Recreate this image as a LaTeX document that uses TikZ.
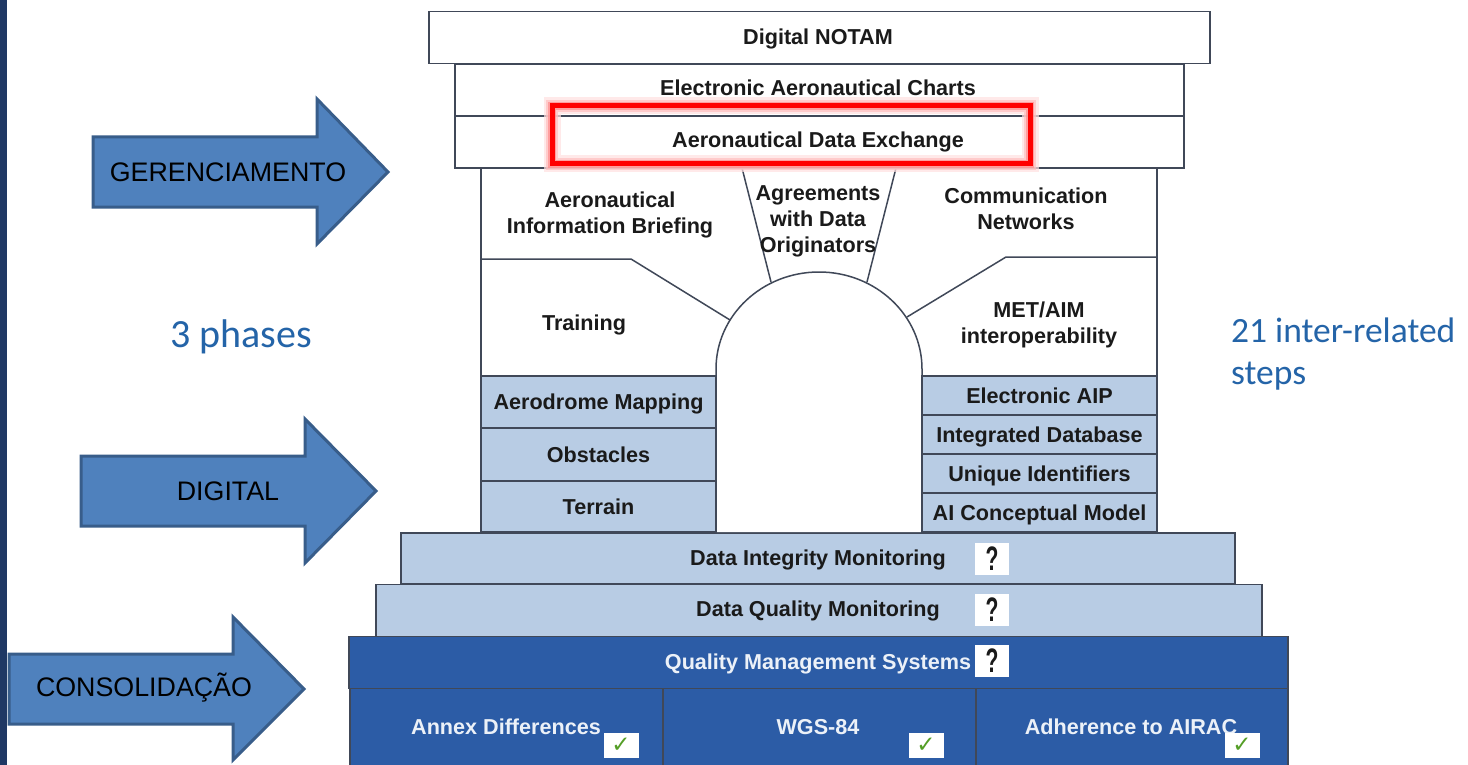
\documentclass[tikz,border=0pt]{standalone}
\usepackage{fontspec}
\setmainfont{Liberation Sans}
\newfontfamily\carlitofont{Carlito}
\newfontfamily\dejavufont{DejaVu Sans}
\definecolor{stripblue}{RGB}{31,56,100}
\definecolor{arrowfill}{RGB}{79,129,189}
\definecolor{arrowedge}{RGB}{56,93,138}
\definecolor{cellblue}{RGB}{184,204,228}
\definecolor{darkcell}{RGB}{44,92,166}
\definecolor{edgecol}{RGB}{64,72,88}
\definecolor{phaseblue}{RGB}{36,100,168}
\definecolor{checkgreen}{RGB}{84,158,38}
\definecolor{txt}{RGB}{26,26,26}
\definecolor{lighttxt}{RGB}{236,241,248}
\tikzset{
  cellfont/.style={font=\fontsize{21.6}{26}\selectfont\bfseries, text height=15.5pt, text depth=0pt},
  cell/.style={draw=edgecol, line width=1.5pt, inner sep=0pt, fill=white,
    cellfont, text=txt, align=center},
  bluecell/.style={cell, fill=cellblue},
  darkbox/.style={cell, fill=darkcell, text=lighttxt},
  label/.style={inner sep=0pt, cellfont, text=txt, align=center},
  multilabel/.style={inner sep=0pt, font=\fontsize{21.6}{26}\selectfont\bfseries, text depth=0pt, text=txt, align=center},
  divider/.style={draw=edgecol, line width=1.5pt},
  phase/.style={fill=arrowfill, draw=arrowedge, line width=3pt, line join=miter},
  phasetext/.style={inner sep=0pt, font=\fontsize{26.8}{30}\selectfont, text height=19.2pt, text depth=0pt, text=black},
  sidetext/.style={inner sep=0pt, text=phaseblue, anchor=base west},
  qbox/.style={fill=white, inner sep=0pt, minimum width=34pt, minimum height=32pt,
    font=\fontsize{34}{34}\selectfont\bfseries, text=txt},
  cbox/.style={fill=white, inner sep=0pt, minimum width=35pt, minimum height=25pt,
    font=\dejavufont\fontsize{23}{23}\selectfont, text=checkgreen},
}
\begin{document}
\begin{tikzpicture}[x=1pt, y=-1pt]
\useasboundingbox (0,0) rectangle (1468,765);
\fill[white] (0,0) rectangle (1468,765);
\fill[stripblue] (0,0) rectangle (7,765);

% phase arrows
\draw[phase] (93,137) -- (317,137) -- (317,99) -- (388,172) -- (317,244) -- (317,207) -- (93,207) -- cycle;
\node[phasetext] (gerencia) at (228,172) {GERENCIAMENTO};
\draw[phase] (81,456) -- (305,456) -- (305,419) -- (376,491) -- (305,563) -- (305,526) -- (81,526) -- cycle;
\node[phasetext] (digital) at (228,491) {DIGITAL};
\draw[phase] (9,654) -- (233,654) -- (233,617) -- (304,689) -- (233,760) -- (233,724) -- (9,724) -- cycle;
\node[phasetext] (consol) at (144,687) {CONSOLIDAÇÃO};

% side texts
\node[sidetext, font=\carlitofont\fontsize{40}{44}\selectfont] (phases) at (170,347) {3 phases};
\node[sidetext, font=\carlitofont\fontsize{35.5}{40}\selectfont] (steps1) at (1231,342) {21 inter-related};
\node[sidetext, font=\carlitofont\fontsize{35.5}{40}\selectfont] (steps2) at (1231,384) {steps};

% foundation
\node[darkbox, minimum width=313pt, minimum height=77pt] (annex) at (506.5,727) {};
\node[darkbox, minimum width=313pt, minimum height=77pt] (wgs) at (819.5,727) {};
\node[darkbox, minimum width=312pt, minimum height=77pt] (airac) at (1132,727) {};
\node[label, text=lighttxt] (annexT) at (506,727) {Annex Differences};
\node[label, text=lighttxt] (wgsT) at (818,727) {WGS-84};
\node[label, text=lighttxt] (airacT) at (1131,727) {Adherence to AIRAC};
\node[darkbox, minimum width=939pt, minimum height=52pt] (qms) at (818.5,662.5) {};
\node[label, text=lighttxt] (qmsT) at (818,662) {Quality Management Systems};
\node[bluecell, minimum width=886pt, minimum height=52pt] (dqm) at (819,610.5) {};
\node[label] (dqmT) at (818,609) {Data Quality Monitoring};
\node[bluecell, minimum width=834pt, minimum height=51pt] (dim) at (818,558.5) {};
\node[label] (dimT) at (818,558) {Data Integrity Monitoring};

% question marks and check marks
\node[qbox] (q1) at (992,559) {\scalebox{0.62}[1]{?}};
\node[qbox] (q2) at (992,610) {\scalebox{0.62}[1]{?}};
\node[qbox] (q3) at (992,661) {\scalebox{0.62}[1]{?}};
\node[cbox] (c1) at (621,745) {✓};
\node[cbox] (c2) at (926,745) {✓};
\node[cbox] (c3) at (1242,745) {✓};

% arch panel
\draw[divider, fill=white] (481,168) rectangle (1157,532);
\draw[divider] (481,259) -- (631,259) -- (730,320);
\draw[divider] (1157,257) -- (1006,257) -- (907,317);
\draw[divider] (742,168) -- (771,282);
\draw[divider] (896,168) -- (867,282);
\draw[divider, fill=white] (716,532) -- (716,369) arc[start angle=180, end angle=0, x radius=103pt, y radius=97pt] -- (922,532);

\node[multilabel] (briefing) at (610,212.5) {Aeronautical\\Information Briefing};
\node[multilabel] (agree) at (818,219) {Agreements\\with Data\\Originators};
\node[multilabel] (comm) at (1026,209) {Communication\\Networks};
\node[label] (training) at (584,323) {Training};
\node[multilabel] (metaim) at (1039,323) {MET/AIM\\interoperability};

% left column
\node[bluecell, minimum width=235pt, minimum height=52pt] (aero) at (598.5,402) {Aerodrome Mapping};
\node[bluecell, minimum width=235pt, minimum height=53pt] (obst) at (598.5,454.5) {Obstacles};
\node[bluecell, minimum width=235pt, minimum height=51pt] (terr) at (598.5,506.5) {Terrain};
% right column
\node[bluecell, minimum width=235pt, minimum height=39pt] (eaip) at (1039.5,395.5) {Electronic AIP};
\node[bluecell, minimum width=235pt, minimum height=39pt] (idb) at (1039.5,434.5) {Integrated Database};
\node[bluecell, minimum width=235pt, minimum height=39pt] (uid) at (1039.5,473.5) {Unique Identifiers};
\node[bluecell, minimum width=235pt, minimum height=39pt] (aicm) at (1039.5,512.5) {AI Conceptual Model};

% top layers
\node[cell, minimum width=729pt, minimum height=52pt] (ade) at (819.5,142) {};
\node[label] (adeT) at (818,140) {Aeronautical Data Exchange};
\node[cell, minimum width=729pt, minimum height=52pt] (eac) at (819.5,90) {};
\node[label] (eacT) at (818,88) {Electronic Aeronautical Charts};
\node[cell, minimum width=781pt, minimum height=52pt] (notam) at (819.5,37.5) {};
\node[label] (notamT) at (818,37) {Digital NOTAM};

% highlight
\draw[red!12, line width=17pt, opacity=0.7] (552,106) rectangle (1030,164);
\draw[red!25, line width=12pt, opacity=0.7] (552,106) rectangle (1030,164);
\draw[red!45, line width=8.5pt, opacity=0.7] (552,106) rectangle (1030,164);
\draw[red, line width=5pt] (552,106) rectangle (1030,164);
\end{tikzpicture}
\end{document}
